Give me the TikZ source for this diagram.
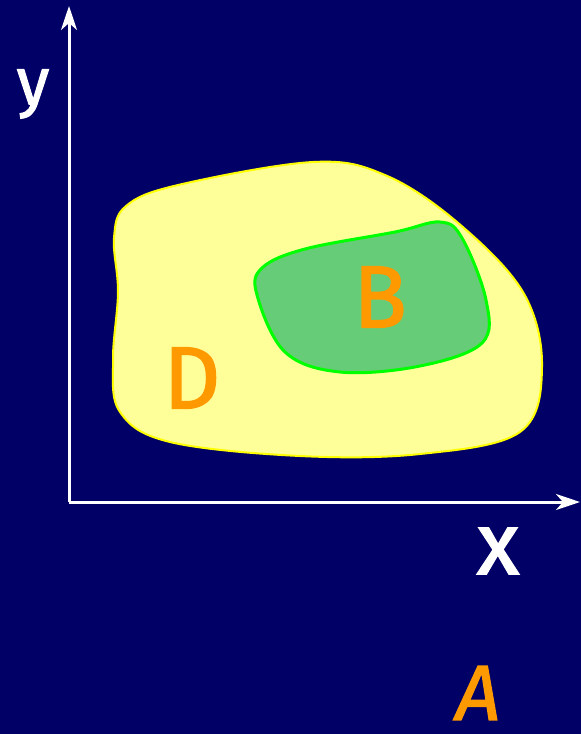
\documentclass[tikz,border=0pt]{standalone}
\usepackage{fontspec}
\setmainfont{Fira Sans}
\newfontface\lblface{Fira Sans}[FakeBold=1.8]
\newfontface\lblfaceit{Fira Sans Italic}[FakeBold=1.8]
\usetikzlibrary{arrows.meta}
\definecolor{bg}{HTML}{000066}
\definecolor{yfill}{HTML}{FFFF99}
\definecolor{ydraw}{HTML}{FFFF00}
\definecolor{gfill}{HTML}{66CC77}
\definecolor{gdraw}{HTML}{00FF00}
\definecolor{orng}{HTML}{FF9900}
\tikzset{
  axis/.style={white, line width=3pt, -{Stealth[length=24pt, width=16pt, inset=7pt]}},
  lbl/.style={inner sep=0pt, font=\lblface\fontsize{88}{88}\selectfont},
  setD/.style={fill=yfill, draw=ydraw, line width=2pt},
  setB/.style={fill=gfill, draw=gdraw, line width=3pt},
}
\begin{document}
\begin{tikzpicture}[x=1pt, y=-1pt]
\fill[bg] (0,0) rectangle (581,734);
\useasboundingbox (0,0) rectangle (581,734);
% region D
\draw[setD] plot[smooth cycle, tension=0.6] coordinates {
 (126,206) (178,185) (313,162) (385,175) (457,222) (523,292) (542,367)
 (520,432) (420,454) (300,456) (170,442) (120,412) (113,360) (118,292) (114,238)};
% region B
\draw[setB] plot[smooth cycle, tension=0.6] coordinates {
 (262,268) (305,249) (395,232) (440,222) (462,238) (486,300) (482,343)
 (420,366) (340,372) (285,352) (257,295)};
% axes
\coordinate (O) at (69,502);
\coordinate (ytip) at (69,6);
\coordinate (xtip) at (580,502);
\draw[axis] (O) -- (ytip);
\draw[axis] (O) -- (xtip);
% labels
\node[lbl, white, font=\lblface\fontsize{66}{66}\selectfont] (ylab) at (33,94) {y};
\node[lbl, white] (xlab) at (498,551) {x};
\node[lbl, orng] (Dlab) at (192,378) {D};
\node[lbl, orng] (Blab) at (380,297) {B};
\node[lbl, orng, font=\lblfaceit\fontsize{78}{78}\selectfont] (Alab) at (478,693) {A};
\end{tikzpicture}
\end{document}
